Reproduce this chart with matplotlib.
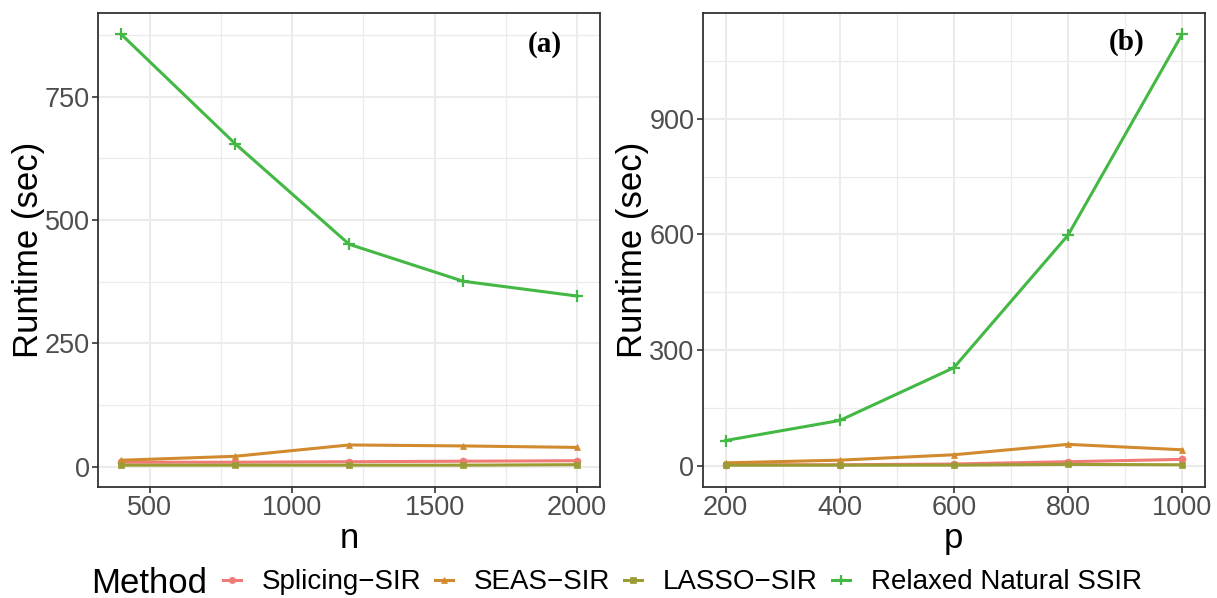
import numpy as np
import matplotlib.pyplot as plt
from matplotlib.lines import Line2D
from matplotlib.ticker import MultipleLocator

plt.rcParams['font.family'] = ['Liberation Sans', 'DejaVu Sans']

# ---------------- data ----------------
n_vals = [400, 800, 1200, 1600, 2000]
p_vals = [200, 400, 600, 800, 1000]

methods = ["Splicing\u2212SIR", "SEAS\u2212SIR", "LASSO\u2212SIR", "Relaxed Natural SSIR"]

# panel (a): runtime vs n
a_splicing = [9, 9, 10, 11, 12]
a_seas = [13, 21, 44, 42, 39]
a_lasso = [3, 3, 3, 3, 4]
a_relaxed = [877, 655, 451, 376, 346]

# panel (b): runtime vs p
b_splicing = [2, 2, 4, 10, 16]
b_seas = [7, 14, 28, 55, 41]
b_lasso = [1, 1, 1, 3, 2]
b_relaxed = [65, 117, 254, 598, 1120]

colors = ["#F07B76", "#D28A2E", "#9C9C35", "#44B844"]
markers = ["o", "^", "s", "+"]

# ---------------- plot ----------------
fig = plt.figure(figsize=(12.17, 5.98), dpi=100)
ax1 = fig.add_axes([0.0808, 0.1861, 0.4122, 0.7927])
ax2 = fig.add_axes([0.5774, 0.1861, 0.4127, 0.7927])

def style_axis(ax, x, series, xmaj, xmin, ymaj, ymin, xlabel, tag, tagpos):
    for ys, c, m in zip(series, colors, markers):
        ms = 8 if m == "+" else 5
        mew = 1.6 if m == "+" else 0.5
        ax.plot(x, ys, color=c, lw=2.2, marker=m, ms=ms, mew=mew, zorder=3)
    lo = min(min(s) for s in series)
    hi = max(max(s) for s in series)
    pad = (hi - lo) * 0.05
    ax.set_ylim(lo - pad, hi + pad)
    xp = (x[-1] - x[0]) * 0.05
    ax.set_xlim(x[0] - xp, x[-1] + xp)
    ax.xaxis.set_major_locator(MultipleLocator(xmaj))
    ax.xaxis.set_minor_locator(MultipleLocator(xmin))
    ax.yaxis.set_major_locator(MultipleLocator(ymaj))
    ax.yaxis.set_minor_locator(MultipleLocator(ymin))
    ax.grid(which="major", color="#EBEBEB", lw=1.5, zorder=0)
    ax.grid(which="minor", color="#EBEBEB", lw=0.9, zorder=0)
    ax.set_axisbelow(True)
    for s in ax.spines.values():
        s.set_color("#333333")
        s.set_linewidth(1.3)
    ax.tick_params(which="major", length=4, width=1.2, color="#333333",
                   labelsize=19.5, labelcolor="#4D4D4D", pad=2)
    ax.tick_params(which="minor", length=0)
    ax.set_xlabel(xlabel, fontsize=25, labelpad=1)
    ax.set_ylabel("Runtime (sec)", fontsize=25, labelpad=0)
    ax.text(tagpos[0], tagpos[1], tag, transform=ax.transAxes, ha="center",
            va="center", fontsize=21, fontweight="bold",
            family=["Liberation Serif", "DejaVu Serif"])

style_axis(ax1, n_vals, [a_splicing, a_seas, a_lasso, a_relaxed],
           500, 250, 250, 125, "n", "(a)", (0.89, 0.932))
style_axis(ax2, p_vals, [b_splicing, b_seas, b_lasso, b_relaxed],
           200, 100, 300, 150, "p", "(b)", (0.845, 0.938))

handles = []
for c, m in zip(colors, markers):
    ms = 7 if m == "+" else 4.5
    mew = 1.6 if m == "+" else 0.5
    handles.append(Line2D([], [], color=c, lw=2.2, marker=m, ms=ms, mew=mew))

fig.text(0.075, 0.024, "Method", fontsize=25, va="center", ha="left")
fig.legend(handles, methods, loc="center left", bbox_to_anchor=(0.183, 0.026),
           ncol=4, frameon=False, fontsize=20, handlelength=0.65,
           handletextpad=0.75, columnspacing=0.5, borderpad=0, borderaxespad=0)

fig.savefig("out.png", dpi=100)
